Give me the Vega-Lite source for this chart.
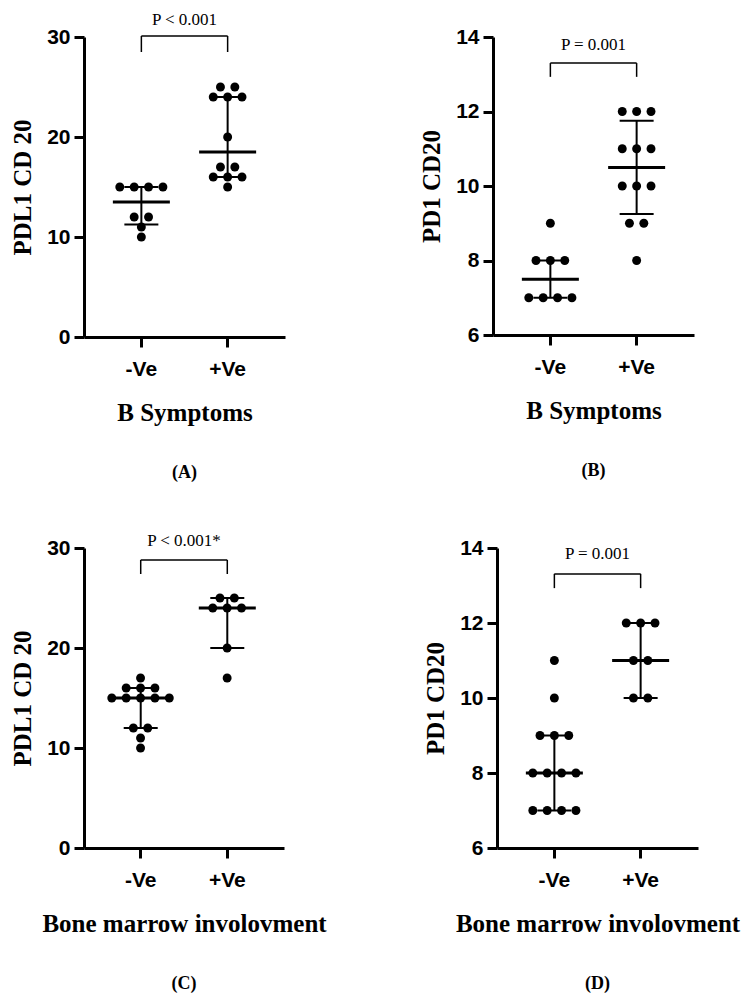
{
  "$schema": "https://vega.github.io/schema/vega-lite/v6.json",
  "background": "white",
  "padding": {"left": 10, "top": 11, "right": 5, "bottom": 5},
  "config": {
    "view": {"stroke": null},
    "axis": {"domainColor": "#000000", "domainWidth": 3, "domainOpacity": 1, "tickColor": "#000000", "tickWidth": 3, "tickOpacity": 1, "tickSize": 10, "grid": false, "labelFont": "Liberation Sans", "labelFontWeight": "bold", "labelFontSize": 21, "labelColor": "black", "titleFont": "Liberation Serif", "titleFontWeight": "bold", "titleFontSize": 25, "titleColor": "black"},
    "axisX": {"labelAngle": 0, "labelPadding": 11, "titlePadding": 21, "domainColor": "#000000", "domainWidth": 3, "tickColor": "#000000", "tickWidth": 3},
    "axisY": {"labelPadding": 4, "titlePadding": 11, "domainColor": "#000000", "domainWidth": 3, "tickColor": "#000000", "tickWidth": 3},
    "title": {"font": "Liberation Serif", "fontSize": 18, "fontWeight": "bold", "color": "black", "orient": "bottom", "offset": 39}
  },
  "datasets": {
    "points": [
      {"panel": "A", "grp": "-Ve", "v": 15}, {"panel": "A", "grp": "-Ve", "v": 15}, {"panel": "A", "grp": "-Ve", "v": 15}, {"panel": "A", "grp": "-Ve", "v": 15},
      {"panel": "A", "grp": "-Ve", "v": 12}, {"panel": "A", "grp": "-Ve", "v": 12}, {"panel": "A", "grp": "-Ve", "v": 11}, {"panel": "A", "grp": "-Ve", "v": 10},
      {"panel": "A", "grp": "+Ve", "v": 25}, {"panel": "A", "grp": "+Ve", "v": 25}, {"panel": "A", "grp": "+Ve", "v": 24}, {"panel": "A", "grp": "+Ve", "v": 24},
      {"panel": "A", "grp": "+Ve", "v": 24}, {"panel": "A", "grp": "+Ve", "v": 20}, {"panel": "A", "grp": "+Ve", "v": 17}, {"panel": "A", "grp": "+Ve", "v": 17},
      {"panel": "A", "grp": "+Ve", "v": 16}, {"panel": "A", "grp": "+Ve", "v": 16}, {"panel": "A", "grp": "+Ve", "v": 16}, {"panel": "A", "grp": "+Ve", "v": 15},
      {"panel": "B", "grp": "-Ve", "v": 9}, {"panel": "B", "grp": "-Ve", "v": 8}, {"panel": "B", "grp": "-Ve", "v": 8}, {"panel": "B", "grp": "-Ve", "v": 8},
      {"panel": "B", "grp": "-Ve", "v": 7}, {"panel": "B", "grp": "-Ve", "v": 7}, {"panel": "B", "grp": "-Ve", "v": 7}, {"panel": "B", "grp": "-Ve", "v": 7},
      {"panel": "B", "grp": "+Ve", "v": 12}, {"panel": "B", "grp": "+Ve", "v": 12}, {"panel": "B", "grp": "+Ve", "v": 12},
      {"panel": "B", "grp": "+Ve", "v": 11}, {"panel": "B", "grp": "+Ve", "v": 11}, {"panel": "B", "grp": "+Ve", "v": 11},
      {"panel": "B", "grp": "+Ve", "v": 10}, {"panel": "B", "grp": "+Ve", "v": 10}, {"panel": "B", "grp": "+Ve", "v": 10},
      {"panel": "B", "grp": "+Ve", "v": 9}, {"panel": "B", "grp": "+Ve", "v": 9}, {"panel": "B", "grp": "+Ve", "v": 8},
      {"panel": "C", "grp": "-Ve", "v": 17}, {"panel": "C", "grp": "-Ve", "v": 16}, {"panel": "C", "grp": "-Ve", "v": 16}, {"panel": "C", "grp": "-Ve", "v": 16},
      {"panel": "C", "grp": "-Ve", "v": 15}, {"panel": "C", "grp": "-Ve", "v": 15}, {"panel": "C", "grp": "-Ve", "v": 15}, {"panel": "C", "grp": "-Ve", "v": 15}, {"panel": "C", "grp": "-Ve", "v": 15},
      {"panel": "C", "grp": "-Ve", "v": 12}, {"panel": "C", "grp": "-Ve", "v": 12}, {"panel": "C", "grp": "-Ve", "v": 11}, {"panel": "C", "grp": "-Ve", "v": 10},
      {"panel": "C", "grp": "+Ve", "v": 25}, {"panel": "C", "grp": "+Ve", "v": 25}, {"panel": "C", "grp": "+Ve", "v": 24}, {"panel": "C", "grp": "+Ve", "v": 24},
      {"panel": "C", "grp": "+Ve", "v": 24}, {"panel": "C", "grp": "+Ve", "v": 20}, {"panel": "C", "grp": "+Ve", "v": 17},
      {"panel": "D", "grp": "-Ve", "v": 11}, {"panel": "D", "grp": "-Ve", "v": 10}, {"panel": "D", "grp": "-Ve", "v": 9}, {"panel": "D", "grp": "-Ve", "v": 9}, {"panel": "D", "grp": "-Ve", "v": 9},
      {"panel": "D", "grp": "-Ve", "v": 8}, {"panel": "D", "grp": "-Ve", "v": 8}, {"panel": "D", "grp": "-Ve", "v": 8}, {"panel": "D", "grp": "-Ve", "v": 8},
      {"panel": "D", "grp": "-Ve", "v": 7}, {"panel": "D", "grp": "-Ve", "v": 7}, {"panel": "D", "grp": "-Ve", "v": 7}, {"panel": "D", "grp": "-Ve", "v": 7},
      {"panel": "D", "grp": "+Ve", "v": 12}, {"panel": "D", "grp": "+Ve", "v": 12}, {"panel": "D", "grp": "+Ve", "v": 12},
      {"panel": "D", "grp": "+Ve", "v": 11}, {"panel": "D", "grp": "+Ve", "v": 11}, {"panel": "D", "grp": "+Ve", "v": 10}, {"panel": "D", "grp": "+Ve", "v": 10}
    ],
    "summary": [
      {"panel": "A", "grp": "-Ve", "median": 13.5, "q1": 11.25, "q3": 15},
      {"panel": "A", "grp": "+Ve", "median": 18.5, "q1": 16, "q3": 24},
      {"panel": "B", "grp": "-Ve", "median": 7.5, "q1": 7, "q3": 8},
      {"panel": "B", "grp": "+Ve", "median": 10.5, "q1": 9.25, "q3": 11.75},
      {"panel": "C", "grp": "-Ve", "median": 15, "q1": 12, "q3": 16},
      {"panel": "C", "grp": "+Ve", "median": 24, "q1": 20, "q3": 25},
      {"panel": "D", "grp": "-Ve", "median": 8, "q1": 7, "q3": 9},
      {"panel": "D", "grp": "+Ve", "median": 11, "q1": 10, "q3": 12}
    ],
    "brackets": [
      {"panel": "A", "from": "-Ve", "to": "+Ve", "top": 30.1, "bot": 28.5, "ty": 31.7, "label": "P < 0.001"},
      {"panel": "B", "from": "-Ve", "to": "+Ve", "top": 13.3, "bot": 12.93, "ty": 13.79, "label": "P = 0.001"},
      {"panel": "C", "from": "-Ve", "to": "+Ve", "top": 28.8, "bot": 27.4, "ty": 30.7, "label": "P < 0.001*"},
      {"panel": "D", "from": "-Ve", "to": "+Ve", "top": 13.31, "bot": 12.93, "ty": 13.84, "label": "P = 0.001"}
    ]
  },
  "spacing": 50,
  "vconcat": [
    {
      "spacing": 134,
      "hconcat": [
        {
          "width": 201, "height": 300,
          "title": "(A)",
          "layer": [
            {"data": {"name": "summary"}, "transform": [{"filter": "datum.panel === 'A'"}], "mark": {"type": "rule", "color": "black", "strokeWidth": 2},
             "encoding": {"x": {"field": "grp", "type": "nominal", "title": "B Symptoms", "scale": {"type": "band", "domain": ["-Ve", "+Ve"], "paddingInner": 0, "paddingOuter": 0.165}},
                          "y": {"field": "q1", "type": "quantitative", "title": "PDL1 CD 20", "scale": {"domain": [0, 30], "nice": false, "zero": false}, "axis": {"values": [0, 10, 20, 30]}},
                          "y2": {"field": "q3"}}},
            {"data": {"name": "summary"}, "transform": [{"filter": "datum.panel === 'A'"}], "mark": {"type": "tick", "color": "black", "opacity": 1, "size": 57, "thickness": 3},
             "encoding": {"x": {"field": "grp", "type": "nominal", "title": "B Symptoms"}, "y": {"field": "median", "type": "quantitative", "title": "PDL1 CD 20"}}},
            {"data": {"name": "summary"}, "transform": [{"filter": "datum.panel === 'A'"}], "mark": {"type": "tick", "color": "black", "opacity": 1, "size": 34, "thickness": 2},
             "encoding": {"x": {"field": "grp", "type": "nominal", "title": "B Symptoms"}, "y": {"field": "q1", "type": "quantitative", "title": "PDL1 CD 20"}}},
            {"data": {"name": "summary"}, "transform": [{"filter": "datum.panel === 'A'"}], "mark": {"type": "tick", "color": "black", "opacity": 1, "size": 34, "thickness": 2},
             "encoding": {"x": {"field": "grp", "type": "nominal", "title": "B Symptoms"}, "y": {"field": "q3", "type": "quantitative", "title": "PDL1 CD 20"}}},
            {"data": {"name": "points"}, "transform": [{"filter": "datum.panel === 'A'"}, {"window": [{"op": "row_number", "as": "rk"}], "groupby": ["grp", "v"]}, {"joinaggregate": [{"op": "count", "as": "n"}], "groupby": ["grp", "v"]}, {"calculate": "datum.rk - (datum.n + 1) / 2", "as": "off"}],
             "mark": {"type": "circle", "color": "black", "opacity": 1, "size": 80},
             "encoding": {"x": {"field": "grp", "type": "nominal", "title": "B Symptoms"}, "xOffset": {"field": "off", "type": "quantitative", "scale": {"domain": [-2.6, 2.6]}}, "y": {"field": "v", "type": "quantitative", "title": "PDL1 CD 20"}}},
            {"data": {"name": "brackets"}, "transform": [{"filter": "datum.panel === 'A'"}], "mark": {"type": "rule", "color": "black", "strokeWidth": 1.5},
             "encoding": {"x": {"field": "from", "type": "nominal", "title": "B Symptoms"}, "x2": {"field": "to"}, "y": {"field": "top", "type": "quantitative", "title": "PDL1 CD 20"}}},
            {"data": {"name": "brackets"}, "transform": [{"filter": "datum.panel === 'A'"}, {"fold": ["from", "to"], "as": ["end", "cat"]}], "mark": {"type": "rule", "color": "black", "strokeWidth": 1.5},
             "encoding": {"x": {"field": "cat", "type": "nominal", "title": "B Symptoms"}, "y": {"field": "top", "type": "quantitative", "title": "PDL1 CD 20"}, "y2": {"field": "bot"}}},
            {"data": {"name": "brackets"}, "transform": [{"filter": "datum.panel === 'A'"}], "mark": {"type": "text", "font": "Liberation Serif", "fontSize": 17, "color": "black", "baseline": "middle"},
             "encoding": {"y": {"field": "ty", "type": "quantitative", "title": "PDL1 CD 20"}, "text": {"field": "label"}}}
          ]
        },
        {
          "width": 201, "height": 298,
          "title": "(B)",
          "layer": [
            {"data": {"name": "summary"}, "transform": [{"filter": "datum.panel === 'B'"}], "mark": {"type": "rule", "color": "black", "strokeWidth": 2},
             "encoding": {"x": {"field": "grp", "type": "nominal", "title": "B Symptoms", "scale": {"type": "band", "domain": ["-Ve", "+Ve"], "paddingInner": 0, "paddingOuter": 0.165}},
                          "y": {"field": "q1", "type": "quantitative", "title": "PD1 CD20", "scale": {"domain": [6, 14], "nice": false, "zero": false}, "axis": {"values": [6, 8, 10, 12, 14]}},
                          "y2": {"field": "q3"}}},
            {"data": {"name": "summary"}, "transform": [{"filter": "datum.panel === 'B'"}], "mark": {"type": "tick", "color": "black", "opacity": 1, "size": 57, "thickness": 3},
             "encoding": {"x": {"field": "grp", "type": "nominal", "title": "B Symptoms"}, "y": {"field": "median", "type": "quantitative", "title": "PD1 CD20"}}},
            {"data": {"name": "summary"}, "transform": [{"filter": "datum.panel === 'B'"}], "mark": {"type": "tick", "color": "black", "opacity": 1, "size": 34, "thickness": 2},
             "encoding": {"x": {"field": "grp", "type": "nominal", "title": "B Symptoms"}, "y": {"field": "q1", "type": "quantitative", "title": "PD1 CD20"}}},
            {"data": {"name": "summary"}, "transform": [{"filter": "datum.panel === 'B'"}], "mark": {"type": "tick", "color": "black", "opacity": 1, "size": 34, "thickness": 2},
             "encoding": {"x": {"field": "grp", "type": "nominal", "title": "B Symptoms"}, "y": {"field": "q3", "type": "quantitative", "title": "PD1 CD20"}}},
            {"data": {"name": "points"}, "transform": [{"filter": "datum.panel === 'B'"}, {"window": [{"op": "row_number", "as": "rk"}], "groupby": ["grp", "v"]}, {"joinaggregate": [{"op": "count", "as": "n"}], "groupby": ["grp", "v"]}, {"calculate": "datum.rk - (datum.n + 1) / 2", "as": "off"}],
             "mark": {"type": "circle", "color": "black", "opacity": 1, "size": 80},
             "encoding": {"x": {"field": "grp", "type": "nominal", "title": "B Symptoms"}, "xOffset": {"field": "off", "type": "quantitative", "scale": {"domain": [-2.5, 2.5]}}, "y": {"field": "v", "type": "quantitative", "title": "PD1 CD20"}}},
            {"data": {"name": "brackets"}, "transform": [{"filter": "datum.panel === 'B'"}], "mark": {"type": "rule", "color": "black", "strokeWidth": 1.5},
             "encoding": {"x": {"field": "from", "type": "nominal", "title": "B Symptoms"}, "x2": {"field": "to"}, "y": {"field": "top", "type": "quantitative", "title": "PD1 CD20"}}},
            {"data": {"name": "brackets"}, "transform": [{"filter": "datum.panel === 'B'"}, {"fold": ["from", "to"], "as": ["end", "cat"]}], "mark": {"type": "rule", "color": "black", "strokeWidth": 1.5},
             "encoding": {"x": {"field": "cat", "type": "nominal", "title": "B Symptoms"}, "y": {"field": "top", "type": "quantitative", "title": "PD1 CD20"}, "y2": {"field": "bot"}}},
            {"data": {"name": "brackets"}, "transform": [{"filter": "datum.panel === 'B'"}], "mark": {"type": "text", "font": "Liberation Serif", "fontSize": 17, "color": "black", "baseline": "middle"},
             "encoding": {"y": {"field": "ty", "type": "quantitative", "title": "PD1 CD20"}, "text": {"field": "label"}}}
          ]
        }
      ]
    },
    {
      "spacing": 96,
      "hconcat": [
        {
          "width": 200, "height": 300,
          "title": "(C)",
          "layer": [
            {"data": {"name": "summary"}, "transform": [{"filter": "datum.panel === 'C'"}], "mark": {"type": "rule", "color": "black", "strokeWidth": 2},
             "encoding": {"x": {"field": "grp", "type": "nominal", "title": "Bone marrow involovment", "scale": {"type": "band", "domain": ["-Ve", "+Ve"], "paddingInner": 0, "paddingOuter": 0.155}},
                          "y": {"field": "q1", "type": "quantitative", "title": "PDL1 CD 20", "scale": {"domain": [0, 30], "nice": false, "zero": false}, "axis": {"values": [0, 10, 20, 30]}},
                          "y2": {"field": "q3"}}},
            {"data": {"name": "summary"}, "transform": [{"filter": "datum.panel === 'C'"}], "mark": {"type": "tick", "color": "black", "opacity": 1, "size": 57, "thickness": 3},
             "encoding": {"x": {"field": "grp", "type": "nominal", "title": "Bone marrow involovment"}, "y": {"field": "median", "type": "quantitative", "title": "PDL1 CD 20"}}},
            {"data": {"name": "summary"}, "transform": [{"filter": "datum.panel === 'C'"}], "mark": {"type": "tick", "color": "black", "opacity": 1, "size": 34, "thickness": 2},
             "encoding": {"x": {"field": "grp", "type": "nominal", "title": "Bone marrow involovment"}, "y": {"field": "q1", "type": "quantitative", "title": "PDL1 CD 20"}}},
            {"data": {"name": "summary"}, "transform": [{"filter": "datum.panel === 'C'"}], "mark": {"type": "tick", "color": "black", "opacity": 1, "size": 34, "thickness": 2},
             "encoding": {"x": {"field": "grp", "type": "nominal", "title": "Bone marrow involovment"}, "y": {"field": "q3", "type": "quantitative", "title": "PDL1 CD 20"}}},
            {"data": {"name": "points"}, "transform": [{"filter": "datum.panel === 'C'"}, {"window": [{"op": "row_number", "as": "rk"}], "groupby": ["grp", "v"]}, {"joinaggregate": [{"op": "count", "as": "n"}], "groupby": ["grp", "v"]}, {"calculate": "datum.rk - (datum.n + 1) / 2", "as": "off"}],
             "mark": {"type": "circle", "color": "black", "opacity": 1, "size": 80},
             "encoding": {"x": {"field": "grp", "type": "nominal", "title": "Bone marrow involovment"}, "xOffset": {"field": "off", "type": "quantitative", "scale": {"domain": [-3.0, 3.0]}}, "y": {"field": "v", "type": "quantitative", "title": "PDL1 CD 20"}}},
            {"data": {"name": "brackets"}, "transform": [{"filter": "datum.panel === 'C'"}], "mark": {"type": "rule", "color": "black", "strokeWidth": 1.5},
             "encoding": {"x": {"field": "from", "type": "nominal", "title": "Bone marrow involovment"}, "x2": {"field": "to"}, "y": {"field": "top", "type": "quantitative", "title": "PDL1 CD 20"}}},
            {"data": {"name": "brackets"}, "transform": [{"filter": "datum.panel === 'C'"}, {"fold": ["from", "to"], "as": ["end", "cat"]}], "mark": {"type": "rule", "color": "black", "strokeWidth": 1.5},
             "encoding": {"x": {"field": "cat", "type": "nominal", "title": "Bone marrow involovment"}, "y": {"field": "top", "type": "quantitative", "title": "PDL1 CD 20"}, "y2": {"field": "bot"}}},
            {"data": {"name": "brackets"}, "transform": [{"filter": "datum.panel === 'C'"}], "mark": {"type": "text", "font": "Liberation Serif", "fontSize": 17, "color": "black", "baseline": "middle"},
             "encoding": {"y": {"field": "ty", "type": "quantitative", "title": "PDL1 CD 20"}, "text": {"field": "label"}}}
          ]
        },
        {
          "width": 201, "height": 300,
          "title": "(D)",
          "layer": [
            {"data": {"name": "summary"}, "transform": [{"filter": "datum.panel === 'D'"}], "mark": {"type": "rule", "color": "black", "strokeWidth": 2},
             "encoding": {"x": {"field": "grp", "type": "nominal", "title": "Bone marrow involovment", "scale": {"type": "band", "domain": ["-Ve", "+Ve"], "paddingInner": 0, "paddingOuter": 0.165}},
                          "y": {"field": "q1", "type": "quantitative", "title": "PD1 CD20", "scale": {"domain": [6, 14], "nice": false, "zero": false}, "axis": {"values": [6, 8, 10, 12, 14]}},
                          "y2": {"field": "q3"}}},
            {"data": {"name": "summary"}, "transform": [{"filter": "datum.panel === 'D'"}], "mark": {"type": "tick", "color": "black", "opacity": 1, "size": 57, "thickness": 3},
             "encoding": {"x": {"field": "grp", "type": "nominal", "title": "Bone marrow involovment"}, "y": {"field": "median", "type": "quantitative", "title": "PD1 CD20"}}},
            {"data": {"name": "summary"}, "transform": [{"filter": "datum.panel === 'D'"}], "mark": {"type": "tick", "color": "black", "opacity": 1, "size": 34, "thickness": 2},
             "encoding": {"x": {"field": "grp", "type": "nominal", "title": "Bone marrow involovment"}, "y": {"field": "q1", "type": "quantitative", "title": "PD1 CD20"}}},
            {"data": {"name": "summary"}, "transform": [{"filter": "datum.panel === 'D'"}], "mark": {"type": "tick", "color": "black", "opacity": 1, "size": 34, "thickness": 2},
             "encoding": {"x": {"field": "grp", "type": "nominal", "title": "Bone marrow involovment"}, "y": {"field": "q3", "type": "quantitative", "title": "PD1 CD20"}}},
            {"data": {"name": "points"}, "transform": [{"filter": "datum.panel === 'D'"}, {"window": [{"op": "row_number", "as": "rk"}], "groupby": ["grp", "v"]}, {"joinaggregate": [{"op": "count", "as": "n"}], "groupby": ["grp", "v"]}, {"calculate": "datum.rk - (datum.n + 1) / 2", "as": "off"}],
             "mark": {"type": "circle", "color": "black", "opacity": 1, "size": 80},
             "encoding": {"x": {"field": "grp", "type": "nominal", "title": "Bone marrow involovment"}, "xOffset": {"field": "off", "type": "quantitative", "scale": {"domain": [-2.6, 2.6]}}, "y": {"field": "v", "type": "quantitative", "title": "PD1 CD20"}}},
            {"data": {"name": "brackets"}, "transform": [{"filter": "datum.panel === 'D'"}], "mark": {"type": "rule", "color": "black", "strokeWidth": 1.5},
             "encoding": {"x": {"field": "from", "type": "nominal", "title": "Bone marrow involovment"}, "x2": {"field": "to"}, "y": {"field": "top", "type": "quantitative", "title": "PD1 CD20"}}},
            {"data": {"name": "brackets"}, "transform": [{"filter": "datum.panel === 'D'"}, {"fold": ["from", "to"], "as": ["end", "cat"]}], "mark": {"type": "rule", "color": "black", "strokeWidth": 1.5},
             "encoding": {"x": {"field": "cat", "type": "nominal", "title": "Bone marrow involovment"}, "y": {"field": "top", "type": "quantitative", "title": "PD1 CD20"}, "y2": {"field": "bot"}}},
            {"data": {"name": "brackets"}, "transform": [{"filter": "datum.panel === 'D'"}], "mark": {"type": "text", "font": "Liberation Serif", "fontSize": 17, "color": "black", "baseline": "middle"},
             "encoding": {"y": {"field": "ty", "type": "quantitative", "title": "PD1 CD20"}, "text": {"field": "label"}}}
          ]
        }
      ]
    }
  ]
}
